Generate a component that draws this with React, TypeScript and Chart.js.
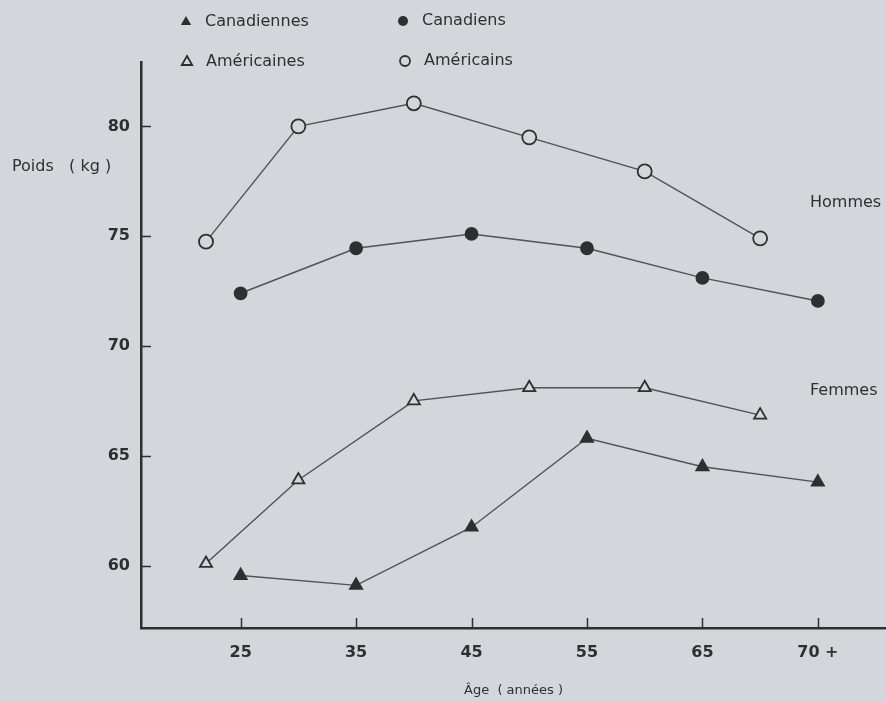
import React, { useEffect, useRef } from 'react';
import { Chart, registerables } from 'chart.js';

Chart.register(...registerables);

// Ages (x) – Canadian series at 25..70+, American series slightly shifted
const canadianAges = [25, 35, 45, 55, 65, 75];
const americanAges = [22, 30, 40, 50, 60, 70];

// Weights (kg)
const canadiennes = [59.55, 59.1, 61.75, 65.8, 64.5, 63.8];
const americaines = [60.1, 63.9, 67.5, 68.1, 68.1, 66.85];
const canadiens = [72.4, 74.45, 75.1, 74.45, 73.1, 72.05];
const americains = [74.75, 80.0, 81.05, 79.5, 77.95, 74.9];

// Axis ticks
const xTickValues = [25, 35, 45, 55, 65, 75];
const xTickLabels = ['25', '35', '45', '55', '65', '70 +'];
const yTickValues = [60, 65, 70, 75, 80];

const BG = '#d3d6db';
const INK = '#2f2f31';
const LINE = '#505254';
const FONT = '"DejaVu Sans", sans-serif';

const legendItems = [
  { label: 'Canadiennes', shape: 'triangle', filled: true, x: 186, y: 22 },
  { label: 'Canadiens', shape: 'circle', filled: true, x: 403, y: 21 },
  { label: 'Américaines', shape: 'triangle', filled: false, x: 187, y: 62 },
  { label: 'Américains', shape: 'circle', filled: false, x: 405, y: 61 },
];

function toPoints(xs: number[], ys: number[]) {
  return xs.map((x, i) => ({ x, y: ys[i] }));
}

function drawMarker(ctx: CanvasRenderingContext2D, shape: string, filled: boolean, x: number, y: number, r: number) {
  ctx.beginPath();
  if (shape === 'circle') {
    ctx.arc(x, y, r, 0, Math.PI * 2);
  } else {
    const h = r * 1.5;
    const s = r * Math.sqrt(3);
    ctx.moveTo(x, y - r);
    ctx.lineTo(x + s / 2, y - r + h);
    ctx.lineTo(x - s / 2, y - r + h);
    ctx.closePath();
  }
  if (filled) {
    ctx.fillStyle = INK;
    ctx.fill();
  } else {
    ctx.fillStyle = BG;
    ctx.fill();
    ctx.lineWidth = 1.8;
    ctx.strokeStyle = INK;
    ctx.stroke();
  }
}

const decor = {
  id: 'decor',
  beforeDraw(chart: any) {
    const { ctx, width, height } = chart;
    ctx.save();
    ctx.fillStyle = BG;
    ctx.fillRect(0, 0, width, height);
    ctx.restore();
  },
  afterDraw(chart: any) {
    const { ctx, chartArea, scales } = chart;
    const xs = scales.x;
    const ys = scales.y;
    ctx.save();
    ctx.strokeStyle = INK;
    ctx.lineWidth = 1.5;
    yTickValues.forEach((v) => {
      const py = Math.round(ys.getPixelForValue(v)) + 0.5;
      ctx.beginPath();
      ctx.moveTo(chartArea.left, py);
      ctx.lineTo(chartArea.left + 10, py);
      ctx.stroke();
    });
    xTickValues.forEach((v) => {
      const px = Math.round(xs.getPixelForValue(v)) + 0.5;
      ctx.beginPath();
      ctx.moveTo(px, chartArea.bottom);
      ctx.lineTo(px, chartArea.bottom - 10);
      ctx.stroke();
    });

    ctx.fillStyle = INK;
    ctx.textBaseline = 'middle';
    ctx.textAlign = 'left';
    ctx.font = `16px ${FONT}`;
    ctx.fillText('Poids   ( kg )', 12, 167);
    ctx.fillText('Hommes', 810, 203);
    ctx.fillText('Femmes', 810, 391);

    legendItems.forEach((it) => {
      drawMarker(ctx, it.shape, it.filled, it.x, it.y, it.shape === 'circle' ? 5 : 6);
      ctx.fillStyle = INK;
      ctx.font = `16px ${FONT}`;
      ctx.fillText(it.label, it.x + 19, it.y);
    });
    ctx.restore();
  },
};

export default function App() {
  const ref = useRef<HTMLCanvasElement | null>(null);

  useEffect(() => {
    document.body.style.margin = '0';
    document.body.style.background = BG;
    const canvas = ref.current;
    if (!canvas) return;

    const common = {
      borderColor: LINE,
      borderWidth: 1.4,
      pointBorderColor: INK,
      pointBorderWidth: 1.8,
      tension: 0,
      fill: false,
    };

    const chart = new Chart(canvas, {
      type: 'line',
      data: {
        datasets: [
          {
            ...common,
            label: 'Américains',
            data: toPoints(americanAges, americains),
            pointStyle: 'circle',
            pointRadius: 7,
            pointBackgroundColor: BG,
          },
          {
            ...common,
            label: 'Canadiens',
            data: toPoints(canadianAges, canadiens),
            pointStyle: 'circle',
            pointRadius: 6,
            pointBackgroundColor: INK,
          },
          {
            ...common,
            label: 'Américaines',
            data: toPoints(americanAges, americaines),
            pointStyle: 'triangle',
            pointRadius: 7,
            pointBackgroundColor: BG,
          },
          {
            ...common,
            label: 'Canadiennes',
            data: toPoints(canadianAges, canadiennes),
            pointStyle: 'triangle',
            pointRadius: 7,
            pointBackgroundColor: INK,
          },
        ],
      },
      options: {
        responsive: false,
        animation: false,
        devicePixelRatio: 1,
        layout: { autoPadding: false, padding: { top: 62, right: 0, left: 0, bottom: 0 } },
        plugins: {
          legend: { display: false },
          tooltip: { enabled: false },
        },
        scales: {
          x: {
            type: 'linear',
            min: 16.37,
            max: 80.9,
            afterBuildTicks: (scale: any) => {
              scale.ticks = xTickValues.map((v) => ({ value: v }));
            },
            afterFit: (scale: any) => {
              scale.height = 74;
            },
            ticks: {
              color: INK,
              padding: 15,
              font: { family: FONT, size: 16, weight: 'bold' },
              maxRotation: 0,
              autoSkip: false,
              callback: (v: any) => {
                const i = xTickValues.indexOf(Number(v));
                return i >= 0 ? xTickLabels[i] : '';
              },
            },
            grid: { display: false, drawTicks: false },
            border: { display: true, color: INK, width: 2.5 },
            title: {
              display: true,
              text: 'Âge  ( années )',
              color: INK,
              font: { family: FONT, size: 13 },
              padding: { top: 0, bottom: 4 },
            },
          },
          y: {
            type: 'linear',
            min: 57.16,
            max: 82.93,
            afterBuildTicks: (scale: any) => {
              scale.ticks = yTickValues.map((v) => ({ value: v }));
            },
            afterFit: (scale: any) => {
              scale.width = 141;
            },
            ticks: {
              color: INK,
              padding: 11,
              font: { family: FONT, size: 16, weight: 'bold' },
              autoSkip: false,
            },
            grid: { display: false, drawTicks: false },
            border: { display: true, color: INK, width: 2.5 },
          },
        },
      },
      plugins: [decor],
    } as any);

    return () => chart.destroy();
  }, []);

  return <canvas ref={ref} width={886} height={702} style={{ display: 'block', width: 886, height: 702 }} />;
}
